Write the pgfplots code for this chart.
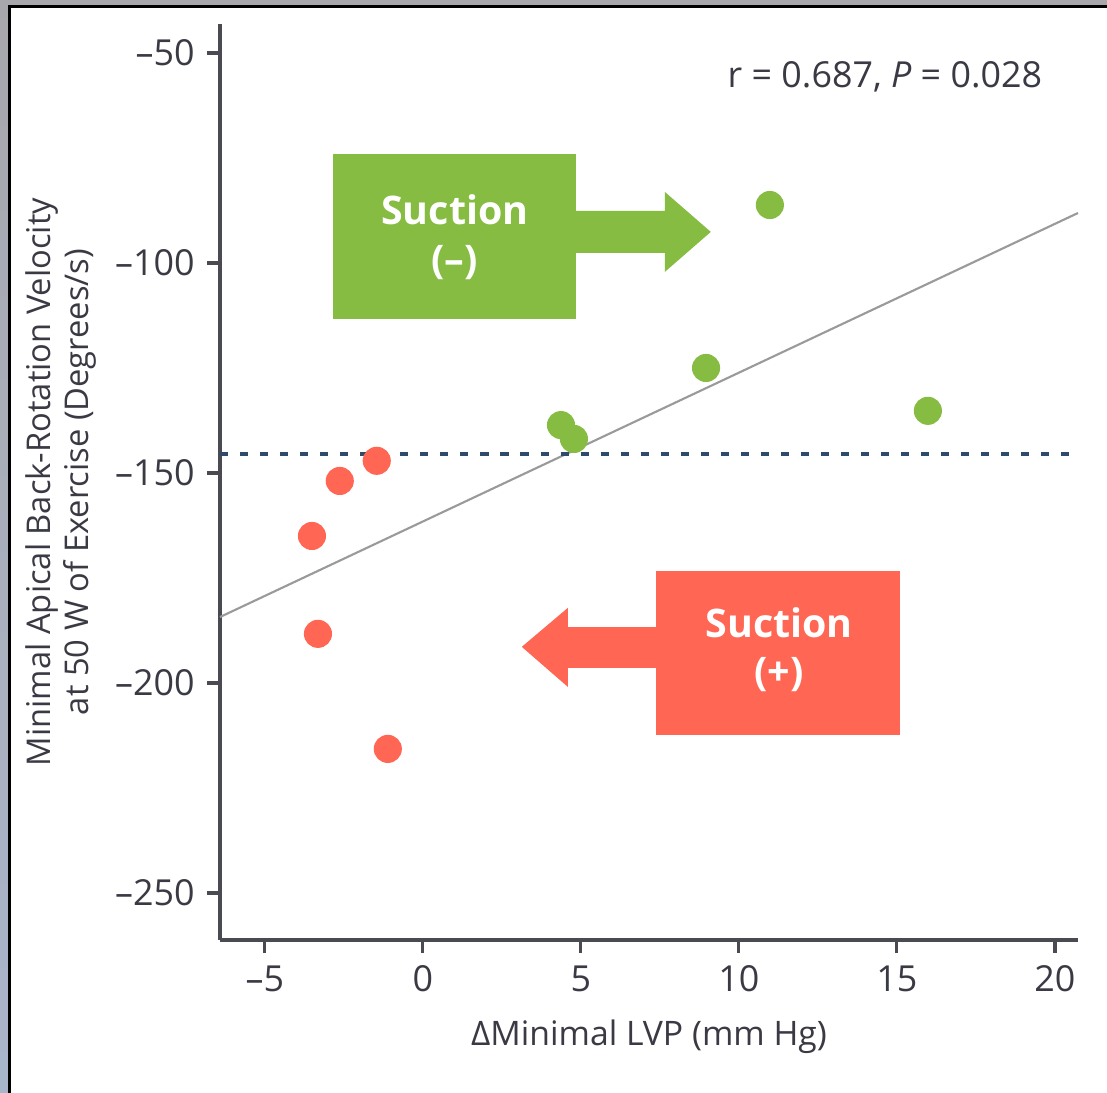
\documentclass[border=0pt]{standalone}
\usepackage{fontspec}
\setmainfont{Open Sans}
\usepackage{pgfplots}
\pgfplotsset{compat=1.18}
\definecolor{sgreen}{HTML}{86BC42}
\definecolor{sred}{HTML}{FF6654}
\definecolor{navy}{HTML}{2E4B6C}
\definecolor{axgray}{HTML}{4A4A52}
\definecolor{txt}{HTML}{3A3A44}
\definecolor{regline}{HTML}{9A9A9A}
\definecolor{bordtop}{HTML}{A8A8AC}
\definecolor{bordbot}{HTML}{A9B5CB}
\begin{document}
\begin{tikzpicture}[x=1cm,y=1cm]
\useasboundingbox (0,0) rectangle (11.07,10.93);
\shade[top color=bordtop, bottom color=bordbot] (0,0) rectangle (11.07,10.93);
\fill[white] (0.10,0) rectangle (11.07,10.865);
\draw[black, line width=0.6pt] (0.095,0) -- (0.095,10.865) -- (11.07,10.865);
\begin{axis}[
  at={(2.20cm,1.53cm)}, anchor=south west,
  width=8.58cm, height=9.16cm, scale only axis,
  xmin=-6.42, xmax=20.73, ymin=-261.2, ymax=-43.1,
  axis x line*=bottom, axis y line*=left,
  axis line style={axgray, line width=0.9pt},
  tick align=outside, major tick length=0.13cm,
  tick style={axgray, line width=0.9pt},
  xtick={-5,0,5,10,15,20},
  xticklabels={–5,0,5,10,15,20},
  ytick={-250,-200,-150,-100,-50},
  yticklabels={–250,–200,–150,–100,–50},
  ticklabel style={font=\fontsize{10.2}{12}\selectfont, text=txt},
  xlabel={ΔMinimal LVP (mm Hg)},
  xlabel style={at={(axis description cs:0.5,-0.1059)}, anchor=center, font=\fontsize{9.6}{12}\selectfont, text=txt},
  ylabel={Minimal Apical Back-Rotation Velocity\\at 50 W of Exercise (Degrees/s)},
  ylabel style={at={(axis description cs:-0.1853,0.5)}, anchor=center, align=center, font=\fontsize{9.3}{11}\selectfont, text=txt},
  clip=false,
]
% annotation boxes
\fill[sgreen] (axis cs:-2.85,-74.05) rectangle (axis cs:4.84,-113.33);
\fill[sgreen] (axis cs:4.80,-87.6) -- (axis cs:7.66,-87.6) -- (axis cs:7.66,-83.1)
  -- (axis cs:9.11,-92.6) -- (axis cs:7.66,-102.1) -- (axis cs:7.66,-97.6) -- (axis cs:4.80,-97.6) -- cycle;
\node[text=white, font=\fontsize{11.2}{13}\bfseries\selectfont] at (axis cs:1.01,-87.4) {Suction};
\node[text=white, font=\fontsize{11.2}{13}\bfseries\selectfont] at (axis cs:1.01,-99.8) {(–)};
\fill[sred] (axis cs:7.37,-173.3) rectangle (axis cs:15.09,-212.4);
\fill[sred] (axis cs:7.41,-186.7) -- (axis cs:4.59,-186.7) -- (axis cs:4.59,-182.1)
  -- (axis cs:3.13,-191.4) -- (axis cs:4.59,-200.95) -- (axis cs:4.59,-196.4) -- (axis cs:7.41,-196.4) -- cycle;
\node[text=white, font=\fontsize{11.2}{13}\bfseries\selectfont] at (axis cs:11.27,-185.7) {Suction};
\node[text=white, font=\fontsize{11.2}{13}\bfseries\selectfont] at (axis cs:11.27,-198.1) {(+)};
% regression
\addplot[regline, line width=0.6pt] coordinates {(-6.42,-184.3) (20.73,-88.1)};
% points
\addplot[only marks, mark=*, mark size=3.8pt, sred, mark options={draw=none, fill=sred}] coordinates {
  (-1.46,-147.1) (-2.63,-151.9) (-3.51,-165.0) (-3.32,-188.3) (-1.11,-215.7)};
\addplot[only marks, mark=*, mark size=3.8pt, sgreen, mark options={draw=none, fill=sgreen}] coordinates {
  (10.98,-86.2) (8.96,-125.0) (4.37,-138.6) (4.78,-141.9) (15.98,-135.2)};
% threshold
\addplot[navy, line width=1.1pt, dash pattern=on 2.3pt off 3.4pt] coordinates {(-6.42,-145.5) (20.73,-145.5)};
\node[text=txt, font=\fontsize{10.2}{13}\selectfont] at (axis cs:14.62,-55.7) {r = 0.687, \textit{P} = 0.028};
\end{axis}
\end{tikzpicture}
\end{document}
